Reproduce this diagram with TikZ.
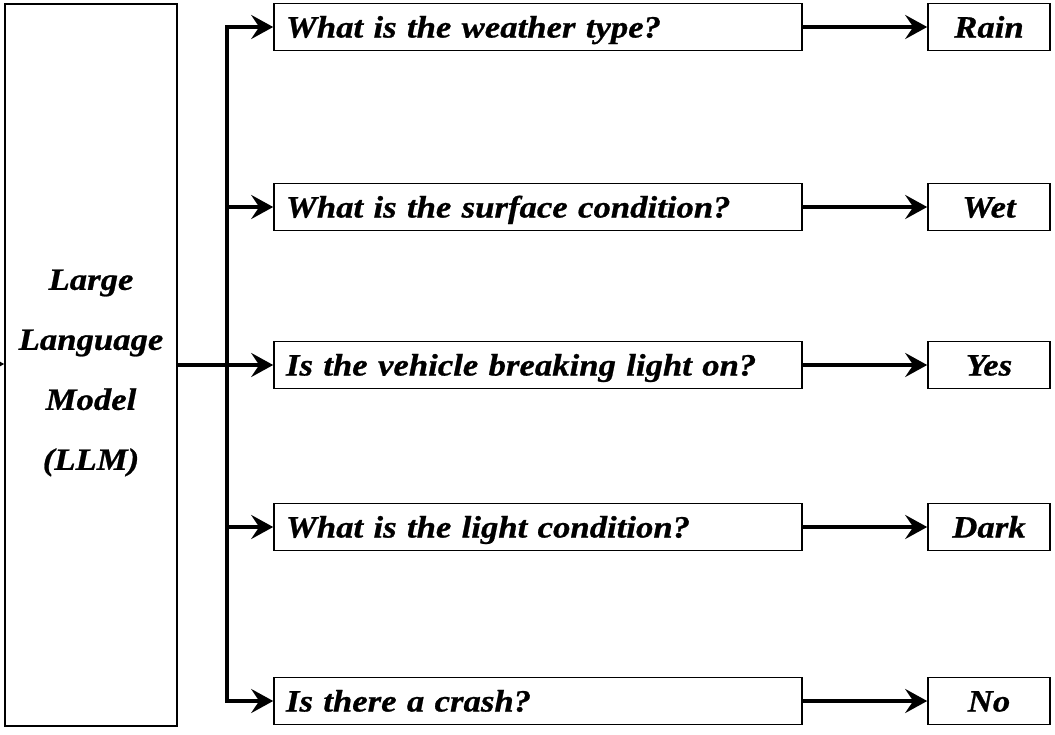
\documentclass[tikz,border=0pt]{standalone}
\usepackage{fontspec}
\setmainfont{Liberation Serif}[BoldItalicFeatures={FakeStretch=1.12, FakeBold=0.8}]
\usepackage{tikz}
\usetikzlibrary{arrows.meta, positioning}

\begin{document}
\begin{tikzpicture}[
  x=0.5pt, y=-0.5pt,
  txt/.style={font=\fontsize{15.5}{30}\selectfont\bfseries\itshape},
  box/.style={draw, line width=0.8pt, inner sep=0pt, txt},
  qbox/.style={box, minimum height=23.5pt, text height=10.5pt, text depth=0pt,
    text width=252pt, align=left, inner xsep=6pt},
  abox/.style={box, minimum height=23.5pt, text height=10.5pt, text depth=0pt,
    minimum width=61pt, align=center},
  arrow/.style={-{Stealth[length=11pt, width=12pt, inset=4pt]}, line width=2pt},
  line/.style={line width=2pt}
]
  \useasboundingbox (0,0) rectangle (1055,734);

  \node[box, minimum width=86pt, minimum height=361pt,
    label={[txt, align=center, yshift=-4pt]center:Large\\ Language\\ Model\\ (LLM)}] (llm) at (91,365) {};
  \coordinate (src) at (-40,364);
  \draw[arrow] (src) -- (llm.west |- src);

  \node[qbox] (q1) at (538,27) {What is the weather type?};
  \node[qbox] (q2) at (538,207) {What is the surface condition?};
  \node[qbox] (q3) at (538,365) {Is the vehicle breaking light on?};
  \node[qbox] (q4) at (538,527) {What is the light condition?};
  \node[qbox] (q5) at (538,701) {Is there a crash?};

  \node[abox] (a1) at (989,27) {Rain};
  \node[abox] (a2) at (989,207) {Wet};
  \node[abox] (a3) at (989,365) {Yes};
  \node[abox] (a4) at (989,527) {Dark};
  \node[abox] (a5) at (989,701) {No};

  \coordinate (split) at (227,365);
  \draw[line] (llm.east |- split) -- (split);
  \draw[arrow] (split) |- (q1.west);
  \draw[arrow] (split) |- (q2.west);
  \draw[arrow] (split) -- (q3.west);
  \draw[arrow] (split) |- (q4.west);
  \draw[arrow] (split) |- (q5.west);

  \draw[arrow] (q1) -- (a1);
  \draw[arrow] (q2) -- (a2);
  \draw[arrow] (q3) -- (a3);
  \draw[arrow] (q4) -- (a4);
  \draw[arrow] (q5) -- (a5);
\end{tikzpicture}
\end{document}
